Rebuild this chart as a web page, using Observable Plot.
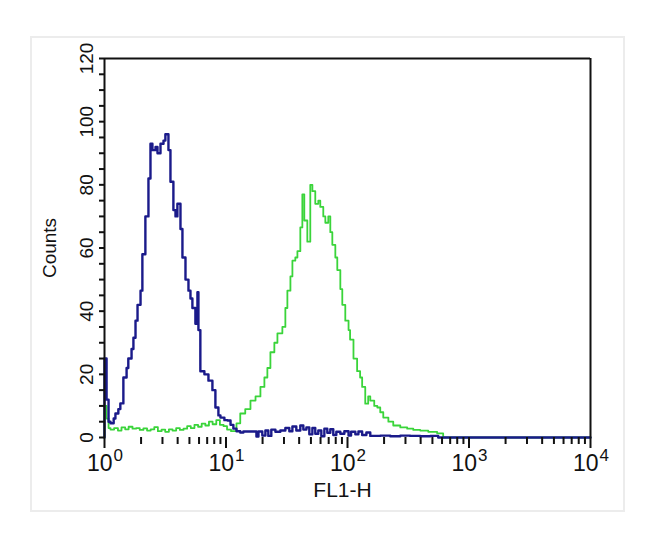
<!DOCTYPE html>
<html>
<head>
<meta charset="utf-8">
<script src="https://cdn.jsdelivr.net/npm/d3@7"></script>
<script src="https://cdn.jsdelivr.net/npm/@observablehq/plot@0.6"></script>
<style>
  html, body { margin: 0; padding: 0; background: #fff; }
  #wrap { position: relative; width: 650px; height: 533px; overflow: hidden; }
  #border { position: absolute; left: 30px; top: 36px; width: 591px; height: 472px; border: 2px solid #ececec; }
  #chart { position: absolute; left: 0; top: 0; }
  svg { font-family: "Liberation Sans", Arial, sans-serif; }
</style>
</head>
<body>
<div id="wrap"><div id="border"></div><div id="chart"></div></div>
<script>
// Blue histogram (control)
const blueFL = [1, 1, 1.04, 1.08, 1.12, 1.19, 1.23, 1.30, 1.35, 1.43, 1.52, 1.57, 1.67, 1.73, 1.80, 1.87, 1.98, 2.05, 2.17, 2.30, 2.39, 2.48, 2.63, 2.73, 2.89, 3.06, 3.17, 3.36, 3.49, 3.69, 3.84, 3.98, 4.22, 4.38, 4.64, 4.91, 5.10, 5.29, 5.60, 5.82, 5.93, 6.15, 6.64, 7.17, 7.73, 8.18, 8.66, 9.00, 9.70, 10.3, 10.9, 11.5, 12.2, 13.1, 13.9, 15.3, 16.5, 17.8, 18.5, 19.9, 21.1, 22.3, 23.6, 25.5, 28.0, 30.8, 33.2, 35.2, 37.9, 40.9, 43.3, 45.9, 48.5, 51.4, 54.3, 57.5, 60.9, 64.5, 68.2, 72.2, 76.4, 80.9, 87.3, 94.2, 102, 107, 116, 123, 132, 143, 154, 186, 225, 272, 328, 397, 480, 558, 10000];
const blueCount = [0, 25, 12, 5, 4.5, 6, 7.6, 9, 10.8, 19, 22, 25, 28, 31.6, 37, 42, 46.5, 58, 70, 82, 93, 91, 92, 90, 93, 94, 96, 91, 81, 72, 70, 74, 66, 57, 50, 46.5, 44, 41, 36, 46, 34, 21, 20, 18, 15, 9.5, 7, 6.3, 5.5, 5.4, 4, 2.8, 2, 1.6, 1.9, 1.9, 1.9, 0.3, 1.9, 0.6, 2.2, 0.5, 2.5, 1.8, 2.2, 3.0, 2.0, 3.5, 2.2, 3.8, 2.5, 3.2, 1.0, 3.0, 1.2, 2.2, 0.4, 2.8, 1.5, 2.6, 0.8, 1.8, 1.2, 2.0, 0.6, 1.8, 1.0, 1.9, 0.8, 1.6, 0.5, 0.6, 0.4, 0.6, 0.5, 0.4, 0.5, 0, 0];

// Green histogram (stained)
const greenFL = [1, 1, 1.04, 1.08, 1.12, 1.20, 1.29, 1.38, 1.48, 1.58, 1.70, 1.82, 1.95, 2.09, 2.24, 2.40, 2.57, 2.75, 2.95, 3.16, 3.39, 3.63, 3.89, 4.17, 4.47, 4.79, 5.13, 5.50, 5.89, 6.31, 6.76, 7.24, 7.76, 8.32, 8.91, 9.55, 10.2, 11.0, 12.2, 13.1, 14.4, 15.9, 17.5, 19.2, 20.7, 21.9, 23.2, 25.0, 26.5, 29.1, 30.8, 32.0, 33.9, 35.2, 37.2, 38.7, 40.9, 42.5, 44.1, 46.7, 49.4, 51.4, 54.3, 57.5, 59.7, 63.2, 65.7, 69.5, 72.2, 75.0, 79.4, 82.4, 87.3, 90.6, 95.9, 102, 105, 112, 120, 127, 132, 140, 148, 154, 166, 176, 186, 197, 217, 238, 272, 310, 348, 397, 462, 547, 613, 10000];
const greenCount = [0, 10, 6, 3, 2.5, 3, 2.2, 3.2, 2.6, 3.4, 2.8, 3.0, 2.4, 2.9, 2.2, 2.6, 3.3, 2.0, 2.5, 1.8, 2.6, 2.2, 3.0, 2.4, 2.8, 3.6, 3.0, 4.0, 3.4, 4.4, 3.8, 5.0, 4.2, 5.5, 4.0, 3.6, 2.5, 2.0, 4.5, 7.6, 9, 11.7, 13, 16, 19, 22, 27, 30, 33, 35, 41, 46.5, 51, 56, 57, 59, 66.5, 77, 68.7, 62, 80, 78, 74, 75, 73, 70, 68, 70, 65, 61, 57, 53, 47, 42, 37, 34, 31, 25, 21, 19, 16, 10.7, 13, 11.7, 10, 9.5, 8, 6.3, 5, 3.8, 3.2, 2.8, 2.4, 2.2, 1.8, 1.3, 0, 0];

// Axis ticks and labels
const xMajor = [1, 10, 100, 1000, 10000];
const xExponents = ["0", "1", "2", "3", "4"];
const xMinor = [2, 3, 4, 5, 6, 7, 8, 9, 20, 30, 40, 50, 60, 70, 80, 90, 200, 300, 400, 500, 600, 700, 800, 900, 2000, 3000, 4000, 5000, 6000, 7000, 8000, 9000];
const yMajor = [0, 20, 40, 60, 80, 100, 120];
const yMinor = [0, 5, 10, 15, 20, 25, 30, 35, 40, 45, 50, 55, 60, 65, 70, 75, 80, 85, 90, 95, 100, 105, 110, 115, 120];
const xTitle = "FL1-H";
const yTitle = "Counts";

const blue = blueFL.map((v, i) => ({fl: v, count: blueCount[i]}));
const green = greenFL.map((v, i) => ({fl: v, count: greenCount[i]}));
const xLab = xMajor.map((v, i) => ({v, e: xExponents[i]}));

const chart = Plot.plot({
  width: 650,
  height: 533,
  marginLeft: 104,
  marginRight: 60,
  marginTop: 58,
  marginBottom: 96,
  style: {background: "transparent", fontFamily: "Liberation Sans, Arial, sans-serif", color: "#111"},
  x: {type: "log", domain: [1, 10000], label: null},
  y: {domain: [0, 120], label: null},
  marks: [
    Plot.line(green, {x: "fl", y: "count", curve: "step-after", stroke: "#3ad43a", strokeWidth: 1.8}),
    Plot.line(blue, {x: "fl", y: "count", curve: "step-after", stroke: "#1a1a8a", strokeWidth: 2.4}),
    Plot.ruleY([120], {stroke: "#111", strokeWidth: 2}),
    Plot.ruleX([10000], {stroke: "#111", strokeWidth: 2}),
    Plot.ruleX([1], {stroke: "#111", strokeWidth: 2}),
    Plot.axisY({ticks: yMinor, tickSize: 5, tickFormat: () => "", strokeWidth: 2, stroke: "#111"}),
    Plot.axisX({ticks: xMinor, tickSize: 7, tickFormat: () => "", strokeWidth: 2, stroke: "#111"}),
    Plot.axisX({ticks: xMajor, tickSize: 11, tickFormat: () => "", strokeWidth: 2, stroke: "#111"}),
    Plot.text(yMajor, {y: d => d, text: d => String(d), frameAnchor: "left", dx: -18, rotate: -90, textAnchor: "middle", lineAnchor: "middle", fontSize: 19, fill: "#111"}),
    Plot.text(xLab, {x: "v", text: () => "10", frameAnchor: "bottom", dy: 26, dx: 8, textAnchor: "end", lineAnchor: "middle", fontSize: 23, fill: "#111"}),
    Plot.text(xLab, {x: "v", text: "e", frameAnchor: "bottom", dy: 18, dx: 9, textAnchor: "start", lineAnchor: "middle", fontSize: 17, fill: "#111"}),
    Plot.text([yTitle], {text: d => d, frameAnchor: "left", dx: -55, rotate: -90, textAnchor: "middle", lineAnchor: "middle", fontSize: 19, fill: "#111"}),
    Plot.text([xTitle], {text: d => d, frameAnchor: "bottom", dy: 53, dx: -5, textAnchor: "middle", lineAnchor: "middle", fontSize: 21, fill: "#111"})
  ]
});
document.getElementById("chart").appendChild(chart);
</script>
</body>
</html>
